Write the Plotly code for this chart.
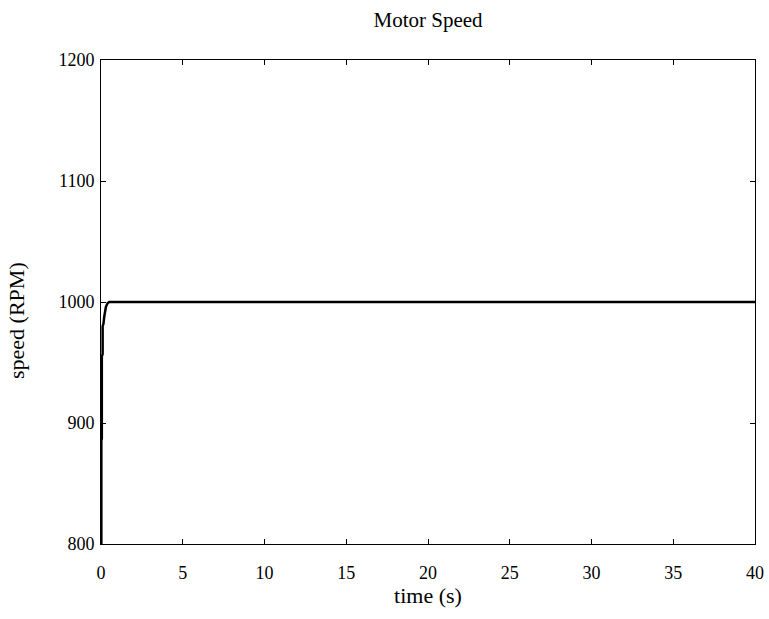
import plotly.graph_objects as go

time_s = [0, 0.02, 0.02, 0.05, 0.05, 0.1, 0.1, 0.15, 0.2, 0.25, 0.3, 0.4, 0.5, 1.0, 40.0]
speed_rpm = [800, 800, 886, 887, 955, 957, 980, 982, 988, 993, 996, 999, 1000, 1000, 1000]

x_ticks = [0, 5, 10, 15, 20, 25, 30, 35, 40]
y_ticks = [800, 900, 1000, 1100, 1200]

font = "Liberation Serif, Times New Roman, serif"

fig = go.Figure()
fig.add_trace(go.Scatter(x=time_s, y=speed_rpm, mode="lines",
                         line=dict(color="black", width=2.5), showlegend=False))

axis_common = dict(showgrid=False, zeroline=False, showline=True, linecolor="black",
                   linewidth=1, mirror="ticks", ticks="inside", ticklen=5, automargin=False,
                   tickcolor="black", tickfont=dict(family=font, size=18, color="black"))

L, R, T, B = 101, 14, 60, 75
fig.update_layout(
    width=769, height=619,
    margin=dict(l=L, r=R, t=T, b=B, autoexpand=False),
    paper_bgcolor="white", plot_bgcolor="white",
    title=dict(text="Motor Speed", x=(L + 769 - R) / 2 / 769, xanchor="center",
               y=1 - 20 / 619, yanchor="middle",
               font=dict(family=font, size=21, color="black")),
    xaxis=dict(range=[0, 40], tickvals=x_ticks, ticklabelstandoff=12,
               title=dict(text="time (s)", font=dict(family=font, size=22, color="black"), standoff=4),
               **axis_common),
    yaxis=dict(range=[800, 1200], tickvals=y_ticks, ticklabelstandoff=2, **axis_common),
    annotations=[dict(text="speed (RPM)", textangle=-90, showarrow=False,
                      xref="paper", yref="paper", x=-(101 - 17) / (769 - L - R), xanchor="center",
                      y=(544 - 321) / (544 - 60), yanchor="middle",
                      font=dict(family=font, size=22, color="black"))],
)

fig.write_html("out.html")
